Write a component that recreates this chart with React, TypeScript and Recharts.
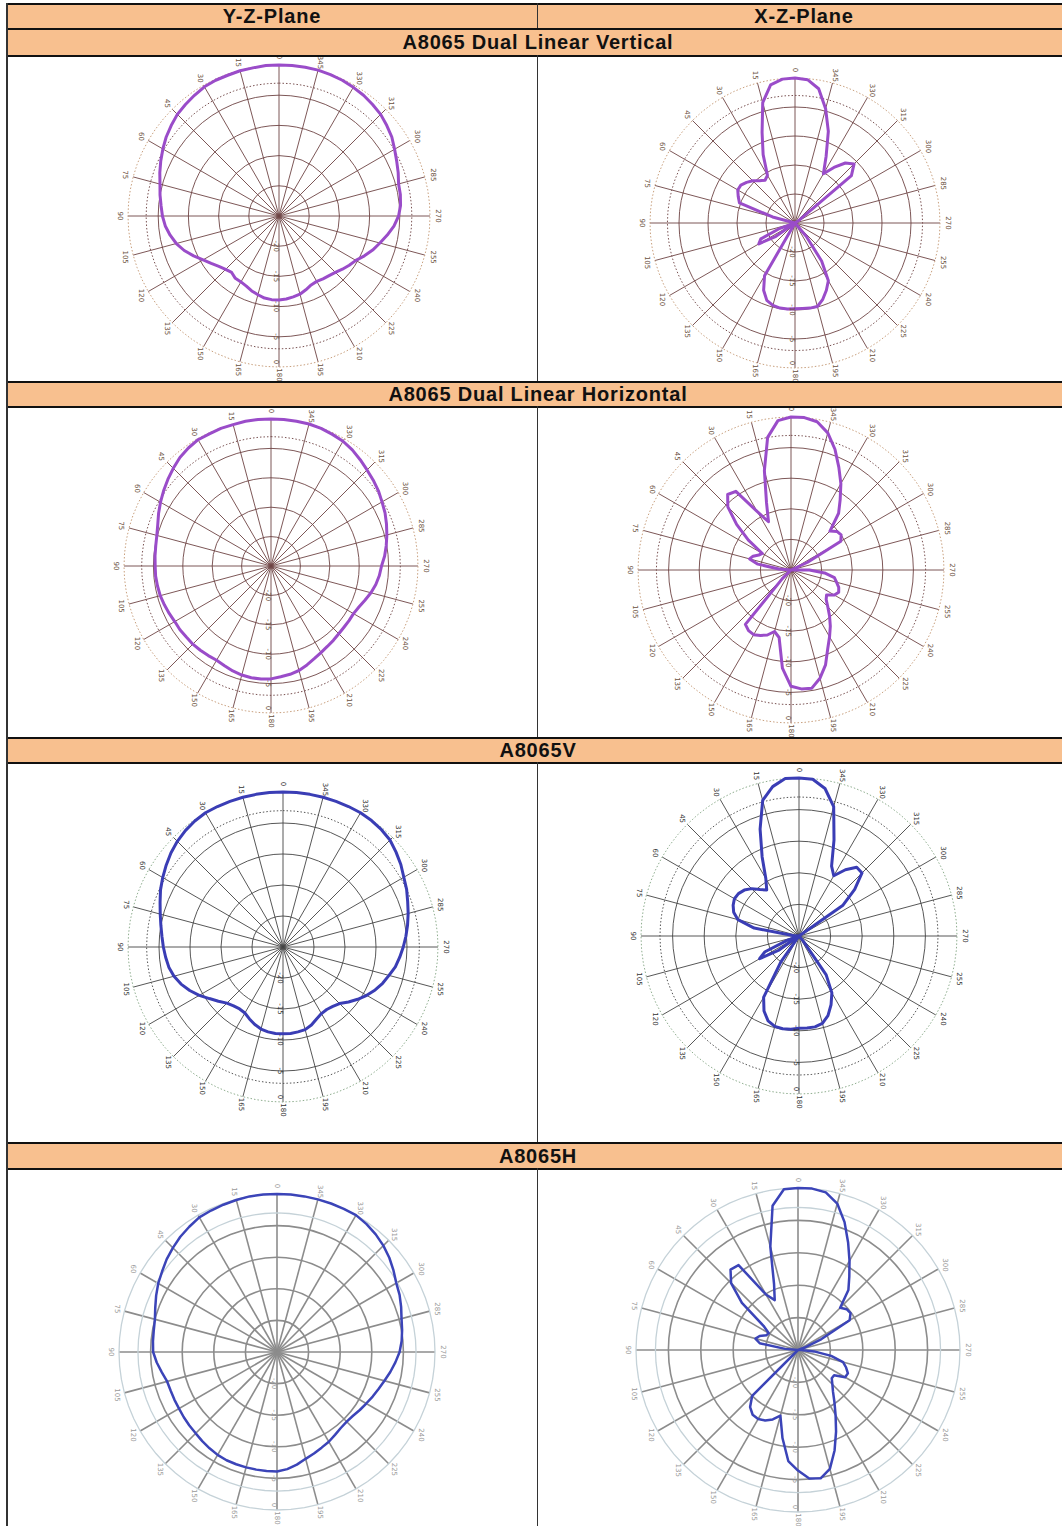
import React from 'react';
import { RadarChart, Radar, PolarGrid, PolarAngleAxis, PolarRadiusAxis } from 'recharts';

// ---------- data ----------
const ANGLES = [
  0, 5, 10, 15, 20, 25, 30, 35, 40, 45, 50, 55, 60, 65, 70, 75, 80, 85, 90, 95, 100, 105, 110, 115,
  120, 125, 130, 135, 140, 145, 150, 155, 160, 165, 170, 175, 180, 185, 190, 195, 200, 205, 210, 215,
  220, 225, 230, 235, 240, 245, 250, 255, 260, 265, 270, 275, 280, 285, 290, 295, 300, 305, 310, 315,
  320, 325, 330, 335, 340, 345, 350, 355,
];
const SPOKE_ANGLES = [0, 15, 30, 45, 60, 75, 90, 105, 120, 135, 150, 165, 180, 195, 210, 225, 240, 255, 270, 285, 300, 315, 330, 345];
const RADIUS_TICKS = [-20, -15, -10, -5, 0];
const RING_LEVELS = [-3, 0];
const DB_DOMAIN = [-25, 0];

const HEADER_LABELS = ['Y-Z-Plane', 'X-Z-Plane'];
const SECTION_TITLES = ['A8065 Dual Linear Vertical', 'A8065 Dual Linear Horizontal', 'A8065V', 'A8065H'];

// gain (dB) every 5 degrees, 0 at top, angle increasing counter-clockwise
const YZ_DUAL_V = [
  0, 0, -0.1, -0.1, -0.2, -0.2, -0.3, -0.6, -0.9, -1.2, -1.7, -2.2, -2.8, -3.4, -4.0, -4.6, -5.0, -5.4,
  -5.7, -6.1, -6.7, -7.4, -8.3, -9.4, -10.5, -11.3, -12.0, -12.5, -12.8, -12.4, -12.4, -12.2, -11.8, -11.5,
  -11.2, -11.1, -11.1, -11.2, -11.4, -11.6, -12.0, -12.4, -12.5, -12.3, -12.1, -11.8, -11.3, -10.8, -10.3,
  -9.4, -8.5, -7.7, -6.8, -5.9, -5.2, -4.8, -4.6, -4.5, -4.0, -3.5, -2.9, -2.2, -1.7, -1.2, -0.9, -0.6,
  -0.4, -0.2, -0.1, 0, 0, 0,
];
const XZ_DUAL_V = [
  0, -0.1, -0.8, -3.5, -8.4, -12.0, -15.5, -16.0, -15.5, -14.7, -14.1, -13.6, -13.6, -14.2, -14.8, -21,
  -25, -25, -25, -25, -25, -25, -22, -18.5, -17.8, -21, -25, -25, -25, -25, -14.5, -12.2, -10.8, -10.3,
  -10.1, -10.1, -10.2, -10.2, -10.1, -10.1, -11.0, -12.2, -13.5, -17, -22, -25, -25, -25, -25, -25, -25,
  -25, -25, -25, -25, -25, -25, -25, -25, -25, -25, -24, -12.3, -10.6, -11.5, -13.3, -15.2, -12.3, -8.2,
  -4.6, -1.5, -0.2,
];
const YZ_DUAL_H = [
  0, 0, 0, -0.1, -0.1, -0.2, -0.2, -0.5, -0.9, -1.5, -2.1, -2.7, -3.3, -3.9, -4.5, -4.9, -5.1, -5.2, -5.3,
  -5.3, -5.4, -5.5, -5.7, -5.9, -6.1, -6.1, -6.2, -6.2, -6.3, -6.4, -6.5, -6.3, -6.0, -5.8, -5.7, -5.7,
  -5.8, -6.1, -6.3, -6.6, -7.1, -7.6, -8.0, -8.3, -8.5, -8.7, -8.8, -8.8, -8.8, -8.5, -8.0, -7.4, -6.9,
  -6.5, -6.2, -5.6, -5.1, -4.6, -4.1, -3.6, -3.2, -2.7, -2.3, -1.9, -1.4, -0.9, -0.5, -0.3, -0.1, 0, 0, 0,
];
const XZ_DUAL_H = [
  0, -0.5, -3.0, -8.2, -13.3, -16.3, -14.0, -9.3, -8.9, -10.4, -13.4, -16.5, -19.6, -19.2, -18.4, -18.0,
  -19.5, -23, -25, -25, -25, -25, -25, -25, -25, -25, -25, -23, -13.4, -12.9, -12.8, -13.2, -13.7, -14.6,
  -13.8, -8.9, -6.0, -5.5, -5.4, -6.7, -8.5, -10.8, -12.4, -13.8, -15.2, -16.5, -17.5, -17.9, -16.8, -16.4,
  -16.7, -17.3, -17.8, -19.5, -22, -25, -25, -25, -25, -22, -15.6, -15.0, -15.2, -16, -12.9, -11.0, -8.7,
  -6.5, -4.0, -1.8, -0.4, 0,
];
const YZ_V = [
  0, 0, 0, 0, 0, 0, 0, -0.2, -0.5, -0.9, -1.4, -2.0, -2.6, -3.2, -3.9, -4.5, -5.0, -5.4, -5.7, -6.0, -6.3,
  -6.8, -7.5, -8.4, -9.4, -10.5, -11.4, -12.2, -12.6, -12.8, -12.7, -12.2, -11.7, -11.3, -11.1, -11.0,
  -11.0, -11.0, -11.1, -11.2, -11.6, -12.2, -12.6, -12.7, -12.5, -12.1, -11.2, -10.3, -9.4, -8.6, -7.9,
  -7.3, -6.6, -6.1, -5.6, -5.1, -4.6, -4.1, -3.6, -3.0, -2.5, -1.8, -1.2, -0.6, -0.3, -0.1, 0, 0, 0, 0, 0, 0,
];
const XZ_V = [
  0, 0, -1.0, -2.8, -7.0, -11.2, -14.5, -16.1, -15.4, -14.4, -13.7, -13.3, -13.2, -13.5, -14.0, -15.0,
  -17.8, -24, -25, -25, -25, -25, -23, -19, -17.8, -21, -25, -25, -25, -20, -13.8, -11.9, -10.7, -10.2,
  -10.1, -10.2, -10.4, -10.4, -10.4, -10.7, -11.6, -13.0, -14.6, -17.5, -24, -25, -25, -25, -25, -25, -25,
  -25, -25, -25, -25, -25, -25, -25, -25, -25, -25, -16.5, -13.5, -10.9, -10.8, -12.2, -14.0, -12.8, -8.8,
  -3.8, -1.3, -0.1,
];
const YZ_H = [
  0, 0, 0, -0.1, -0.2, -0.3, -0.4, -0.8, -1.2, -1.7, -2.2, -2.8, -3.3, -3.9, -4.5, -5.0, -5.2, -5.3, -5.4,
  -5.9, -6.5, -7.0, -7.1, -7.1, -7.1, -7.0, -6.9, -6.8, -6.6, -6.4, -6.2, -6.1, -6.1, -6.1, -6.1, -6.1,
  -6.1, -6.4, -6.9, -7.5, -7.9, -8.3, -8.6, -9.0, -9.3, -9.4, -9.3, -9.0, -8.7, -8.3, -7.9, -7.4, -6.8,
  -6.2, -5.6, -5.2, -4.9, -4.6, -4.1, -3.6, -3.2, -2.5, -1.8, -1.2, -0.7, -0.3, 0, 0, 0, 0, 0, 0,
];
const XZ_H = [
  0, -0.1, -2.4, -8.5, -14.2, -16.5, -15.1, -9.0, -8.8, -10.4, -13.7, -18.5, -19.8, -19.6, -18.7, -18.2,
  -19, -23, -25, -25, -25, -25, -25, -25, -25, -25, -25, -15, -13.5, -12.8, -12.7, -13.0, -13.6, -14.5,
  -11.2, -7.8, -6.4, -5.1, -4.9, -6.0, -8.5, -11.1, -13.4, -15.2, -16.6, -17.5, -18.2, -18.2, -16.6, -16.5,
  -17.1, -17.8, -19.8, -22.5, -24.5, -25, -25, -25, -24, -21, -15.8, -15.1, -15.2, -15.8, -12.9, -11.2,
  -9.1, -6.7, -4.0, -1.6, -0.3, 0,
];

// ---------- styles ----------
type Theme = {
  line: string; lineWidth: number; grid: string; gridWidth: number;
  ring3: string; ring0: string; ringDash: string; ringWidth: number; label: string;
};
const THEME_DUAL: Theme = {
  line: '#9a4cc9', lineWidth: 3, grid: '#6e4444', gridWidth: 0.9,
  ring3: '#7a5252', ring0: '#c9a07e', ringDash: '1.5 2', ringWidth: 1, label: '#6a5040',
};
const THEME_V: Theme = {
  line: '#3a3db5', lineWidth: 3, grid: '#444444', gridWidth: 0.9,
  ring3: '#555555', ring0: '#8fae8f', ringDash: '1.5 2', ringWidth: 1, label: '#333333',
};
const THEME_H: Theme = {
  line: '#3b44b8', lineWidth: 2.5, grid: '#8c8c8c', gridWidth: 1.6,
  ring3: '#c5d2d8', ring0: '#c5d2d8', ringDash: '0', ringWidth: 1.3, label: '#9a9a9a',
};

const PLOTS = [
  { values: YZ_DUAL_V, cx: 279.3, cy: 216, r: 151, theme: THEME_DUAL },
  { values: XZ_DUAL_V, cx: 795, cy: 222.5, r: 145, theme: THEME_DUAL },
  { values: YZ_DUAL_H, cx: 271, cy: 566, r: 147, theme: THEME_DUAL },
  { values: XZ_DUAL_H, cx: 790.7, cy: 570, r: 153, theme: THEME_DUAL },
  { values: YZ_V, cx: 283, cy: 946.7, r: 155, theme: THEME_V },
  { values: XZ_V, cx: 799, cy: 936, r: 158, theme: THEME_V },
  { values: YZ_H, cx: 276.7, cy: 1351.7, r: 158, theme: THEME_H },
  { values: XZ_H, cx: 798.3, cy: 1350, r: 162, theme: THEME_H },
];

// the chart runs clockwise from the top, so the counter-clockwise angles are listed 0, 355, 350, ... 5
const DISPLAY_ORDER = [0, ...ANGLES.slice(1).map((_, k) => ANGLES.length - 1 - k)];

const makeAngleTick = (color: string) => (props: any) => {
  const { x, y, payload } = props;
  const v = Number(payload?.value);
  if (!SPOKE_ANGLES.includes(v)) return <g />;
  return (
    <text x={x} y={y} transform={`rotate(90 ${x} ${y})`} textAnchor="middle" dominantBaseline="central"
      fontSize={7} fill={color} fontFamily="'DejaVu Sans', sans-serif">{v}</text>
  );
};

const makeRadiusTick = (color: string) => (props: any) => {
  const { x, y, payload } = props;
  const v = Number(payload?.value);
  const xx = x - 3;
  const yy = v === 0 ? y - 5 : y;
  return (
    <text x={xx} y={yy} transform={`rotate(90 ${xx} ${yy})`} textAnchor="middle" dominantBaseline="central"
      fontSize={7} fill={color} fontFamily="'DejaVu Sans', sans-serif">{v}</text>
  );
};

function PolarPlot({ values, cx, cy, r, theme }: { values: number[]; cx: number; cy: number; r: number; theme: Theme }) {
  const size = Math.ceil(2 * (r + 26));
  const data = DISPLAY_ORDER.map((i) => ({ angle: ANGLES[i], gain: values[i], ring3: RING_LEVELS[0], ring0: RING_LEVELS[1] }));
  return (
    <div className="polar-plot" style={{ position: 'absolute', left: cx - size / 2, top: cy - size / 2, width: size, height: size }}>
      <RadarChart width={size} height={size} data={data} cx={size / 2} cy={size / 2} outerRadius={r}
        startAngle={90} endAngle={-270} margin={{ top: 0, right: 0, bottom: 0, left: 0 }}>
        <PolarGrid gridType="circle" polarAngles={SPOKE_ANGLES} stroke={theme.grid} strokeWidth={theme.gridWidth} />
        <PolarAngleAxis dataKey="angle" tick={makeAngleTick(theme.label)} tickLine={false} axisLine={false} tickSize={8} />
        <PolarRadiusAxis type="number" angle={-90} domain={DB_DOMAIN as any} ticks={RADIUS_TICKS as any} tickCount={6}
          allowDataOverflow axisLine={false} tick={makeRadiusTick(theme.label)} />
        <Radar dataKey="ring3" stroke={theme.ring3} strokeWidth={theme.ringWidth} strokeDasharray={theme.ringDash}
          fill="none" fillOpacity={0} isAnimationActive={false} dot={false} />
        <Radar dataKey="ring0" stroke={theme.ring0} strokeWidth={theme.ringWidth} strokeDasharray={theme.ringDash}
          fill="none" fillOpacity={0} isAnimationActive={false} dot={false} />
        <Radar dataKey="gain" stroke={theme.line} strokeWidth={theme.lineWidth} strokeLinejoin="round"
          fill="none" fillOpacity={0} isAnimationActive={false} dot={false} />
      </RadarChart>
    </div>
  );
}

// ---------- table layout ----------
const H_LINES = [3, 28, 55, 381, 406, 737, 762, 1142, 1168];
const ORANGE_BANDS = [[5, 28], [30, 55], [383, 406], [739, 762], [1144, 1168]];
const TITLE_BANDS = [[30, 55], [383, 406], [739, 762], [1144, 1168]];
const DIVIDER_SEGMENTS = [[3, 28], [55, 381], [406, 737], [762, 1142], [1168, 1526]];
const ORANGE = '#f8c08f';

export default function App() {
  const font = "'Liberation Sans', Arial, sans-serif";
  const headStyle: React.CSSProperties = {
    position: 'absolute', display: 'flex', alignItems: 'center', justifyContent: 'center',
    fontWeight: 700, fontSize: 20, letterSpacing: 0.8, color: '#111',
  };
  return (
    <div style={{ position: 'absolute', left: 0, top: 0, width: 1062, height: 1526, overflow: 'hidden', background: '#ffffff', fontFamily: font }}>
      <style>{`.polar-plot .recharts-polar-grid-concentric circle:last-child{display:none}`}</style>
      {ORANGE_BANDS.map(([a, b], i) => (
        <div key={'o' + i} style={{ position: 'absolute', left: 6, width: 1060, top: a, height: b - a, background: ORANGE }} />
      ))}
      {PLOTS.map((p, i) => (
        <PolarPlot key={'p' + i} {...p} />
      ))}
      {H_LINES.map((y, i) => (
        <div key={'h' + i} style={{ position: 'absolute', left: 6, width: 1060, top: y, height: 2, background: '#111' }} />
      ))}
      <div style={{ position: 'absolute', left: 6, width: 1.5, top: 3, height: 1523, background: '#333' }} />
      {DIVIDER_SEGMENTS.map(([a, b], i) => (
        <div key={'d' + i} style={{ position: 'absolute', left: 537, width: 1.2, top: a, height: b - a, background: '#333' }} />
      ))}
      <div style={{ ...headStyle, left: 7, width: 530, top: 5, height: 23 }}>{HEADER_LABELS[0]}</div>
      <div style={{ ...headStyle, left: 539, width: 530, top: 5, height: 23 }}>{HEADER_LABELS[1]}</div>
      {TITLE_BANDS.map(([a, b], i) => (
        <div key={'t' + i} style={{ ...headStyle, left: 6, width: 1064, top: a, height: b - a }}>{SECTION_TITLES[i]}</div>
      ))}
    </div>
  );
}
